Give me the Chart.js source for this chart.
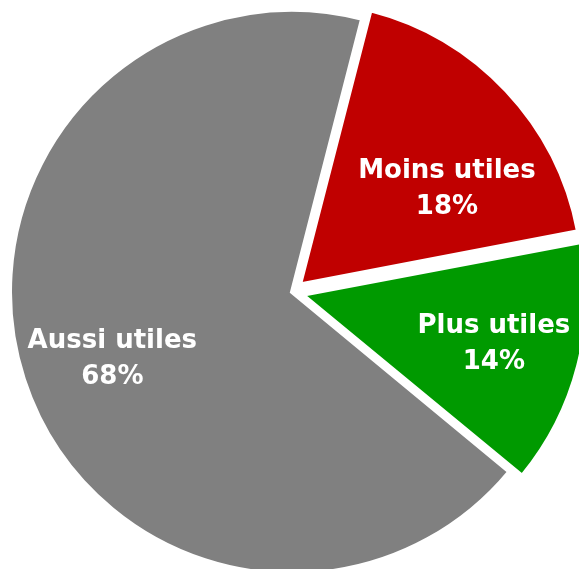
<!DOCTYPE html>
<html>
<head>
<meta charset="utf-8">
<script src="https://cdn.jsdelivr.net/npm/chart.js@4"></script>
<style>
  html, body { margin: 0; padding: 0; background: #fff; }
  #wrap { width: 579px; height: 569px; }
</style>
</head>
<body>
<div id="wrap"><canvas id="pie" width="579" height="569"></canvas></div>
<script>
const categories = ['Moins utiles', 'Plus utiles', 'Aussi utiles'];
const shares = [18, 14, 68];
const sliceColors = ['#C00000', '#009A00', '#808080'];

// labels sit inside each slice: [fraction of slice angle, fraction of radius]
const pieLabels = {
    id: 'pieLabels',
    afterDatasetsDraw(chart, args, opts) {
        const ctx = chart.ctx;
        const meta = chart.getDatasetMeta(0);
        ctx.save();
        ctx.fillStyle = '#fff';
        ctx.font = 'bold 26px "DejaVu Sans"';
        ctx.textAlign = 'center';
        ctx.textBaseline = 'middle';
        meta.data.forEach((arc, i) => {
            const p = arc.getProps(['x', 'y', 'startAngle', 'endAngle', 'outerRadius']);
            const shift = (arc.options.offset || 0) / 4;
            const mid = (p.startAngle + p.endAngle) / 2;
            const cx = p.x + Math.cos(mid) * shift;
            const cy = p.y + Math.sin(mid) * shift;
            const a = p.startAngle + (p.endAngle - p.startAngle) * opts.place[i][0];
            const r = p.outerRadius * opts.place[i][1];
            const x = cx + Math.cos(a) * r;
            const y = cy + Math.sin(a) * r;
            ctx.fillText(categories[i], x, y - 18);
            ctx.fillText(shares[i] + '%', x, y + 18);
        });
        ctx.restore();
    }
};

new Chart(document.getElementById('pie'), {
    type: 'pie',
    data: {
        labels: categories,
        datasets: [{
            data: shares,
            backgroundColor: sliceColors,
            borderColor: '#fff',
            borderWidth: 4,
            borderJoinStyle: 'miter',
            offset: [44, 44, 0]
        }]
    },
    options: {
        responsive: false,
        animation: false,
        events: [],
        rotation: 14.4,
        radius: 282,
        layout: { padding: { top: 15, left: 5, right: 0, bottom: 0 } },
        plugins: {
            legend: { display: false },
            tooltip: { enabled: false },
            pieLabels: { place: [[0.66, 0.62], [0.5, 0.7], [0.49, 0.68]] }
        }
    },
    plugins: [pieLabels]
});
</script>
</body>
</html>
